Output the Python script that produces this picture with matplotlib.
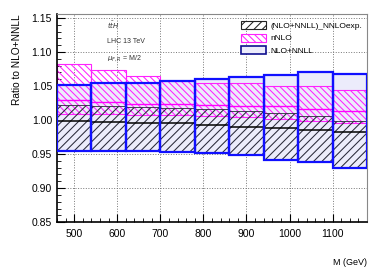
import numpy as np
import matplotlib
matplotlib.use('Agg')
import matplotlib.pyplot as plt
from matplotlib.patches import Patch
from matplotlib.ticker import MultipleLocator

plt.rcParams['font.family'] = ['Liberation Sans', 'DejaVu Sans']
plt.rcParams['hatch.linewidth'] = 0.75

# bin edges (GeV)
edges = [460, 540, 620, 700, 780, 860, 940, 1020, 1100, 1180]

# NLO+NNLL band
nnll_up = [1.052, 1.055, 1.055, 1.058, 1.060, 1.063, 1.066, 1.071, 1.068]
nnll_lo = [0.955, 0.955, 0.954, 0.953, 0.951, 0.949, 0.942, 0.939, 0.929]

# nNLO band
nnlo_up = [1.082, 1.073, 1.065, 1.057, 1.055, 1.054, 1.050, 1.050, 1.044]
nnlo_c = [1.030, 1.026, 1.024, 1.024, 1.022, 1.021, 1.020, 1.016, 1.014]
nnlo_lo = [1.009, 1.009, 1.008, 1.008, 1.006, 1.0045, 1.001, 0.999, 0.996]

# (NLO+NNLL)_NNLOexp. band
exp_up = [1.022, 1.021, 1.019, 1.018, 1.016, 1.013, 1.010, 1.006, 0.999]
exp_c = [0.998, 0.997, 0.996, 0.995, 0.993, 0.990, 0.988, 0.985, 0.983]
exp_lo = [0.955, 0.955, 0.954, 0.953, 0.951, 0.949, 0.942, 0.939, 0.929]

left = np.array(edges[:-1])
width = np.diff(edges)
right = left + width

def arr(a):
    return np.array(a)

fig = plt.figure(figsize=(3.82, 2.78), dpi=100)
ax = fig.add_axes([0.149, 0.201, 0.812, 0.749])

# lavender fill of NLO+NNLL
ax.bar(left, arr(nnll_up) - arr(nnll_lo), width, bottom=nnll_lo, align='edge',
       color='#ececfb', edgecolor='none', zorder=1)
# nNLO hatched
ax.bar(left, arr(nnlo_up) - arr(nnlo_lo), width, bottom=nnlo_lo, align='edge',
       fill=False, hatch='\\' * 5, edgecolor='#ff22ff', linewidth=0.8, zorder=2)
ax.hlines(nnlo_c, left, right, color='#ff00ff', linewidth=1.0, zorder=3)
# NNLOexp hatched
ax.bar(left, arr(exp_up) - arr(exp_lo), width, bottom=exp_lo, align='edge',
       fill=False, hatch='/' * 4, edgecolor='#2a2a3a', linewidth=0.6, zorder=2)
ax.hlines(exp_c, left, right, color='black', linewidth=1.1, zorder=3)
# NLO+NNLL outline
ax.bar(left, arr(nnll_up) - arr(nnll_lo), width, bottom=nnll_lo, align='edge',
       fill=False, edgecolor='#1010ff', linewidth=1.6, zorder=4)

ax.set_xlim(460, 1180)
ax.set_ylim(0.85, 1.156)
ax.xaxis.set_major_locator(MultipleLocator(100))
ax.xaxis.set_minor_locator(MultipleLocator(20))
ax.yaxis.set_major_locator(MultipleLocator(0.05))
ax.yaxis.set_minor_locator(MultipleLocator(0.01))
ax.yaxis.set_major_formatter(matplotlib.ticker.FormatStrFormatter('%.2f'))
ax.tick_params(which='both', direction='in', top=False, right=False,
               labelsize=7.5, colors='black')
ax.tick_params(which='major', length=6, width=0.8)
ax.tick_params(which='minor', length=3, width=0.6)
ax.tick_params(axis='x', pad=5)
ax.grid(True, which='major', linestyle=':', color='#777777', linewidth=0.7, zorder=0)
ax.set_axisbelow(True)
for s in ['top', 'right']:
    ax.spines[s].set_color('#888888')
    ax.spines[s].set_linewidth(0.8)
for s in ['left', 'bottom']:
    ax.spines[s].set_linewidth(1.2)

ax.set_ylabel('Ratio to NLO+NNLL', fontsize=7.3)
ax.yaxis.set_label_coords(-0.113, 0.78)
ax.set_xlabel('M (GeV)', fontsize=6.5)
ax.xaxis.set_label_coords(1.0, -0.17)
ax.xaxis.label.set_horizontalalignment('right')

ax.text(0.16, 0.945, r'$t\bar{t}H$', transform=ax.transAxes, fontsize=5,
        va='center', color='#333333')
ax.text(0.16, 0.868, 'LHC 13 TeV', transform=ax.transAxes, fontsize=5,
        va='center', color='#333333')
ax.text(0.16, 0.79, r'$\mu_{F,R}$ = M/2', transform=ax.transAxes, fontsize=5,
        va='center', color='#333333')

handles = [
    Patch(facecolor='white', edgecolor='#222222', hatch='/' * 4, linewidth=0.8),
    Patch(facecolor='white', edgecolor='#ff22ff', hatch='\\' * 5, linewidth=0.8),
    Patch(facecolor='#ececfb', edgecolor='#10108f', linewidth=1.2),
]
labels = ['(NLO+NNLL)_NNLOexp.', 'nNLO', 'NLO+NNLL']
ax.legend(handles, labels, loc='upper right', bbox_to_anchor=(1.0, 0.99),
          fontsize=6, frameon=False, handlelength=3.0, handleheight=1.1,
          labelspacing=0.45, handletextpad=0.5, borderaxespad=0.2)

fig.savefig('out.png', dpi=100)
